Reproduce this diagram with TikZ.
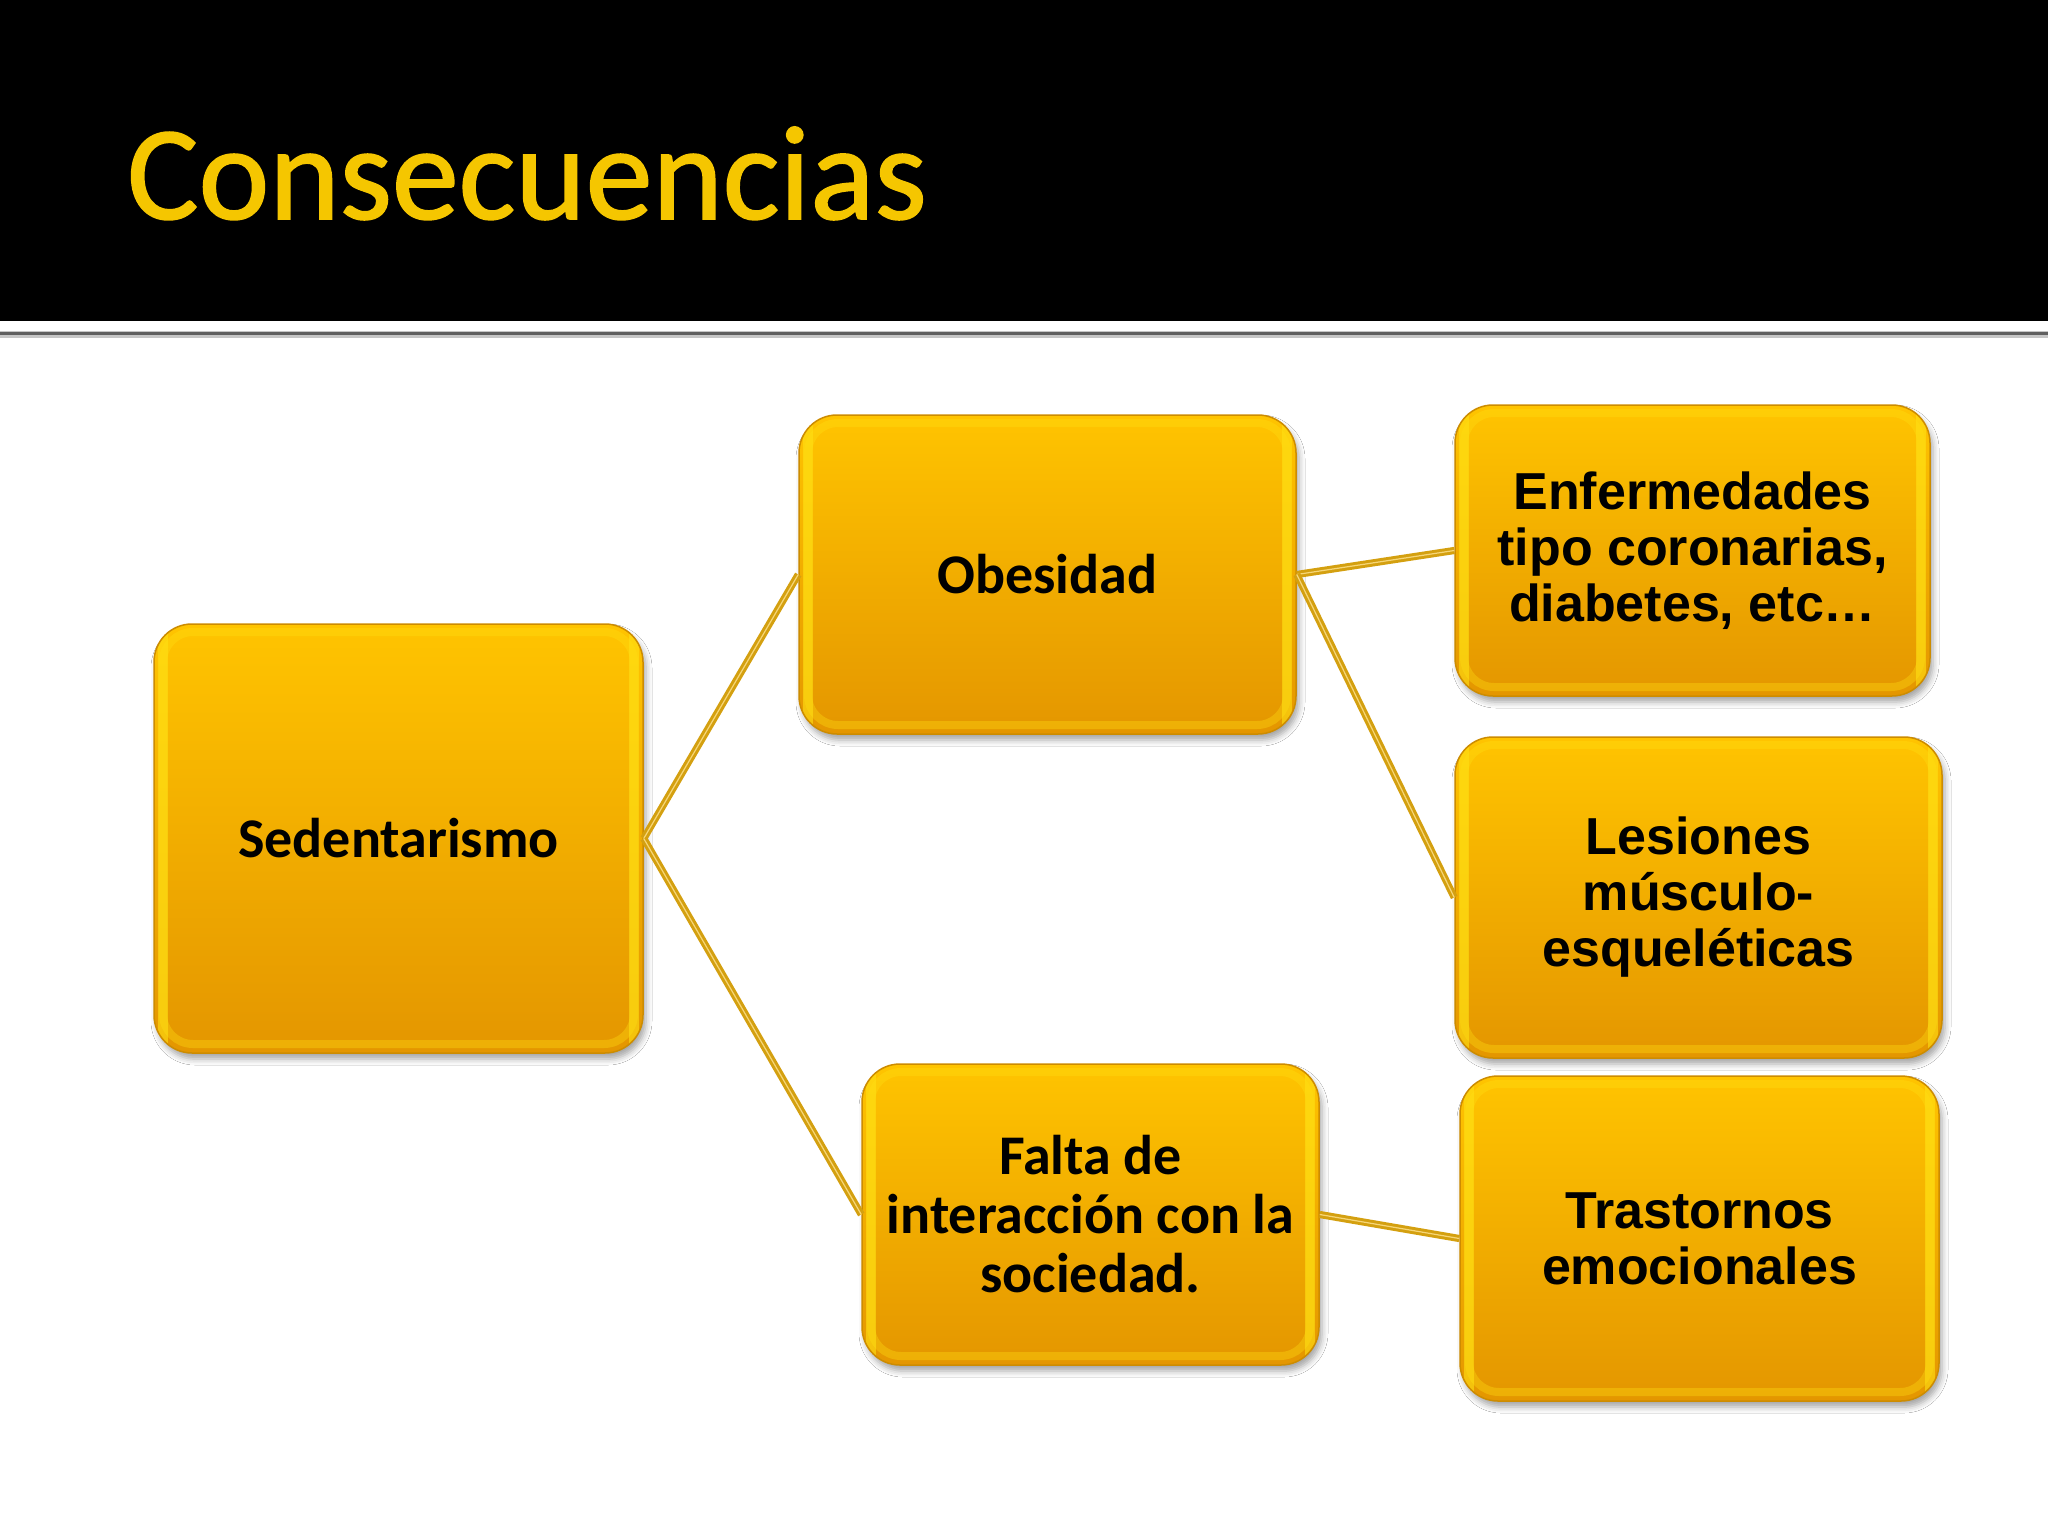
\documentclass[tikz,border=0pt]{standalone}
\usepackage{fontspec}
\setmainfont{Carlito}
\newfontfamily\arialfont{Liberation Sans}
\newfontfamily\titlefont[FakeBold=1.2]{Carlito}
\usetikzlibrary{shadows.blur}
\definecolor{boxtop}{RGB}{255,196,0}
\definecolor{boxbot}{RGB}{228,150,0}
\definecolor{boxedge}{RGB}{205,140,0}
\definecolor{bevel}{RGB}{255,224,20}
\definecolor{conn}{RGB}{212,160,16}
\definecolor{connlight}{RGB}{246,214,120}
\definecolor{titlegold}{RGB}{245,198,0}
\tikzset{
  box/.style={rounded corners=38pt, draw=boxedge, line width=1.5pt,
    top color=boxtop, bottom color=boxbot, align=center, text=black,
    inner sep=0pt,
    blur shadow={shadow xshift=3pt, shadow yshift=-6pt, shadow blur radius=6pt, shadow opacity=35},
    path picture={
      \draw[line width=10pt, draw=bevel, opacity=0.6, rounded corners=30pt]
        ([shift={(9pt,-9pt)}]path picture bounding box.north west) --
        ([shift={(9pt,9pt)}]path picture bounding box.south west);
      \draw[line width=10pt, draw=bevel, opacity=0.6, rounded corners=30pt]
        ([shift={(-9pt,-9pt)}]path picture bounding box.north east) --
        ([shift={(-9pt,9pt)}]path picture bounding box.south east);
      \draw[line width=8pt, draw=bevel, opacity=0.35, rounded corners=30pt]
        ([shift={(9pt,-8pt)}]path picture bounding box.north west) rectangle
        ([shift={(-9pt,9pt)}]path picture bounding box.south east);}},
  calfont/.style={font=\fontsize{56}{59}\selectfont\bfseries},
  arfont/.style={font=\arialfont\fontsize{52}{56}\selectfont\bfseries},
  link/.style={draw=conn, line width=3pt, double=connlight, double distance=1.2pt}
}
\begin{document}
\begin{tikzpicture}[x=1pt,y=-1pt]
\useasboundingbox (0,0) rectangle (2048,1536);
\fill[white] (0,0) rectangle (2048,1536);
\fill[black] (0,0) rectangle (2048,321);
\fill[gray!45] (0,331) rectangle (2048,338);
\fill[gray!75!black] (0,332) rectangle (2048,335);
\node[anchor=base west, inner sep=0pt, text=titlegold, font=\titlefont\fontsize{134}{134}\selectfont] (title) at (127,219) {Consecuencias};

\node[box, calfont, minimum width=489pt, minimum height=429pt] (sed) at (398.5,838.5) {Sedentarismo};
\node[box, calfont, minimum width=497pt, minimum height=319pt] (obe) at (1047.5,574.5) {Obesidad};
\node[box, calfont, minimum width=457pt, minimum height=301pt] (fal) at (1090.5,1214.5) {Falta de\\interacción con la\\sociedad.};
\node[box, arfont, minimum width=475pt, minimum height=291pt] (enf) at (1692.5,550.5) {Enfermedades\\tipo coronarias,\\diabetes, etc…};
\node[box, arfont, minimum width=487pt, minimum height=321pt] (les) at (1698.5,897.5) {Lesiones\\músculo-\\esqueléticas};
\node[box, arfont, minimum width=479pt, minimum height=325pt] (tra) at (1699.5,1238.5) {Trastornos\\emocionales};

\draw[link] (sed.east) -- (obe.west);
\draw[link] (sed.east) -- (fal.west);
\draw[link] (obe.east) -- (enf.west);
\draw[link] (obe.east) -- (les.west);
\draw[link] (fal.east) -- (tra.west);
\end{tikzpicture}
\end{document}
